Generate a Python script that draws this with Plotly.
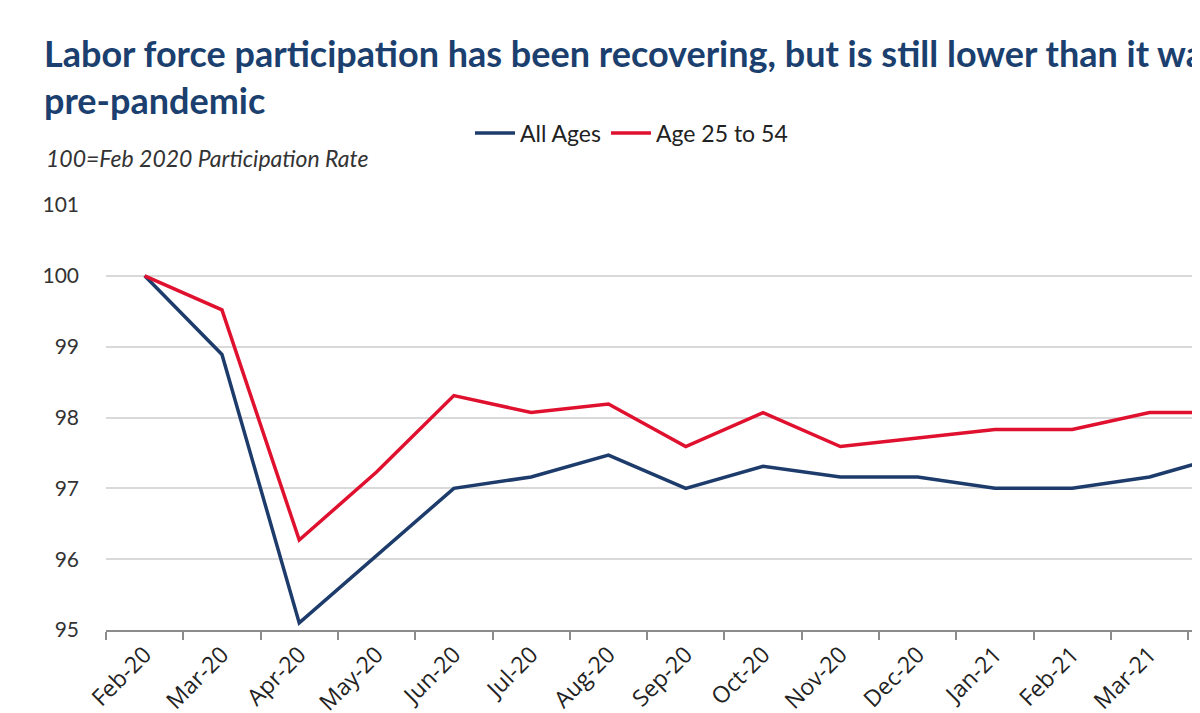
import plotly.graph_objects as go

months = ["Feb-20", "Mar-20", "Apr-20", "May-20", "Jun-20", "Jul-20", "Aug-20",
          "Sep-20", "Oct-20", "Nov-20", "Dec-20", "Jan-21", "Feb-21", "Mar-21", "Apr-21"]
all_ages = [100.0, 98.89, 95.10, 96.05, 97.00, 97.16, 97.47,
            97.00, 97.31, 97.16, 97.16, 97.00, 97.00, 97.16, 97.47]
age_25_54 = [100.0, 99.52, 96.27, 97.23, 98.31, 98.07, 98.19,
             97.59, 98.07, 97.59, 97.71, 97.83, 97.83, 98.07, 98.07]
y_ticks = [95, 96, 97, 98, 99, 100, 101]

BLUE = "#1d3c6c"
RED = "#e0112f"
TITLE = "#1b3f6e"

W, H = 1192, 705

fig = go.Figure()
fig.add_trace(go.Scatter(x=months, y=all_ages, mode="lines", name="All Ages",
                         line=dict(color=BLUE, width=3.5)))
fig.add_trace(go.Scatter(x=months, y=age_25_54, mode="lines", name="Age 25 to 54",
                         line=dict(color=RED, width=3.5)))

fig.update_layout(
    width=W, height=H,
    margin=dict(l=98, r=0, t=197, b=H - 622, autoexpand=False),
    plot_bgcolor="white", paper_bgcolor="white",
    font=dict(family="Lato", color="#333333"),
    title=dict(
        text="<b>Labor force participation has been recovering, but is still lower than it was<br>pre-pandemic</b>",
        font=dict(family="Lato", size=36, color=TITLE),
        x=36 / W, xref="container", xanchor="left",
        y=1 - 59 / H, yref="container", yanchor="top",
    ),
    legend=dict(orientation="h", xref="container", yref="container",
                x=462 / W, xanchor="left", y=1 - 125 / H, yanchor="middle",
                font=dict(family="Lato", size=23, color="#222222"),
                itemwidth=40, tracegroupgap=0, bgcolor="rgba(0,0,0,0)"),
    showlegend=True,
    annotations=[dict(text="<i>100=Feb 2020 Participation Rate</i>", xref="paper", yref="paper",
                      x=(36 - 98) / (W - 98), y=1 + (197 - 150) / 425, xanchor="left", yanchor="middle",
                      showarrow=False, font=dict(family="Lato", size=23, color="#333333"))],
)
fig.update_xaxes(type="category", categoryorder="array", categoryarray=months,
                 range=[-0.5, (W - 98) / 77.3 - 0.5], tickson="boundaries", ticks="outside", ticklen=8,
                 tickwidth=2, tickcolor="#8c8c8c", showline=True, linecolor="#8c8c8c",
                 linewidth=2, showgrid=False, tickangle=-45, automargin=False,
                 tickfont=dict(family="Open Sans", size=23, color="#222222"))
fig.update_yaxes(range=[95, 101], tickvals=y_ticks, showgrid=True, gridcolor="#d9d9d9",
                 gridwidth=2, zeroline=False, showline=False, ticks="", automargin=False,
                 ticklabelstandoff=26,
                 tickfont=dict(family="Lato", size=21, color="#333333"))

fig.write_html("out.html")
